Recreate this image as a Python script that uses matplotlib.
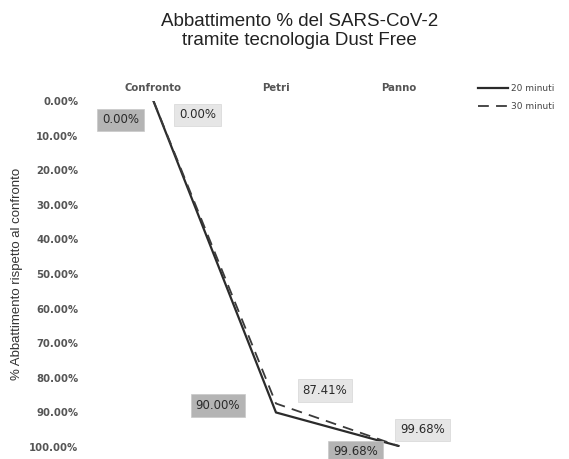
import matplotlib
matplotlib.use("Agg")
import matplotlib.pyplot as plt
from matplotlib.ticker import FuncFormatter

# data
categories = ["Confronto", "Petri", "Panno"]
series_names = ["20 minuti", "30 minuti"]
values_20 = [0.00, 90.00, 99.68]
values_30 = [0.00, 87.41, 99.68]
yticks = [0, 10, 20, 30, 40, 50, 60, 70, 80, 90, 100]

fig = plt.figure(figsize=(5.69, 4.59), dpi=100)
ax = fig.add_axes([0.162, 0.026, 0.646, 0.754])

x = list(range(len(categories)))
ax.plot(x, values_20, color="#2b2b2b", lw=1.6, label=series_names[0])
ax.plot(x, values_30, color="#3a3a3a", lw=1.3, ls=(0, (6, 4)), label=series_names[1])

ax.set_xlim(-0.5, 2.5)
ax.set_ylim(100, 0)
ax.set_yticks(yticks)
ax.yaxis.set_major_formatter(FuncFormatter(lambda v, _: f"{v:.2f}%"))
ax.set_xticks(x)
ax.set_xticklabels(categories)
ax.xaxis.tick_top()
ax.tick_params(axis="both", length=0, labelsize=7.3, colors="#555555")
ax.tick_params(axis="x", pad=6)
ax.tick_params(axis="y", pad=10)
for lab in ax.get_xticklabels() + ax.get_yticklabels():
    lab.set_fontweight("bold")
for s in ax.spines.values():
    s.set_visible(False)
ax.set_ylabel("% Abbattimento rispetto al confronto", fontsize=9.5,
              family="Liberation Sans", color="#333333", labelpad=4)

# data labels, offsets in pixels
offs_20 = [(-33, -19), (-58, 7), (-43, -6)]
offs_30 = [(44, -14), (49, 13), (24, 16)]
for xi, v, off in zip(x, values_20, offs_20):
    ax.annotate(f"{v:.2f}%", (xi, v), xytext=off, textcoords="offset pixels",
                ha="center", va="center", fontsize=8.5, color="#2a2a2a",
                bbox=dict(boxstyle="square,pad=0.4", fc="#b4b4b4", ec="#c8c8c8", lw=0.5),
                annotation_clip=False)
for xi, v, off in zip(x, values_30, offs_30):
    ax.annotate(f"{v:.2f}%", (xi, v), xytext=off, textcoords="offset pixels",
                ha="center", va="center", fontsize=8.5, color="#2a2a2a",
                bbox=dict(boxstyle="square,pad=0.4", fc="#e6e6e6", ec="#d6d6d6", lw=0.5),
                annotation_clip=False)

fig.text(0.527, 0.972, "Abbattimento % del SARS-CoV-2\ntramite tecnologia Dust Free",
         ha="center", va="top", fontsize=13.5, family="Liberation Sans",
         color="#222222", linespacing=1.15)

fig.legend(loc="upper left", bbox_to_anchor=(0.825, 0.835), frameon=False,
           prop={"family": "DejaVu Sans", "size": 6.5},
           handlelength=3.4, handletextpad=0.3, labelspacing=1.0,
           labelcolor="#444444")

fig.savefig("out.png", dpi=100)
